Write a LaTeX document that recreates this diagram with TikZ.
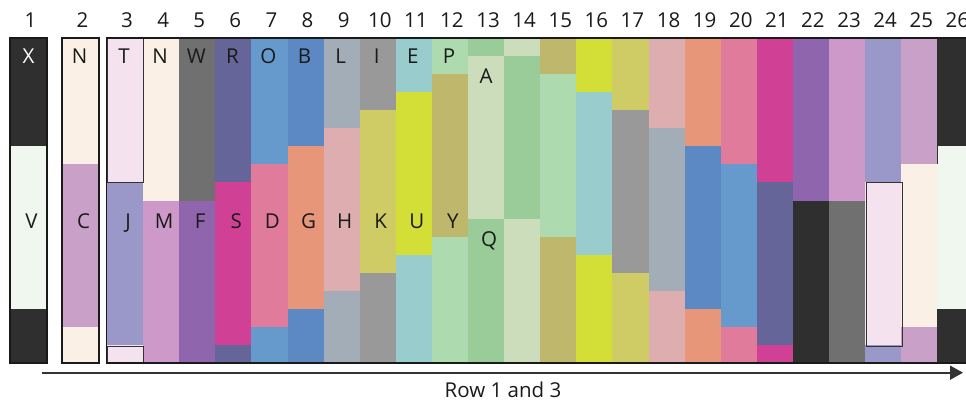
\documentclass[tikz,border=0pt]{standalone}
\usepackage{fontspec}
\setmainfont{Open Sans}
\usetikzlibrary{arrows.meta}
\definecolor{cDark}{HTML}{2F2F2F}
\definecolor{cLight}{HTML}{F0F7EE}
\definecolor{cCream}{HTML}{FAF0E6}
\definecolor{cPurC}{HTML}{C9A0C8}
\definecolor{cPinkT}{HTML}{F4E2EE}
\definecolor{cLav}{HTML}{9A98C9}
\definecolor{cPurM}{HTML}{CC99C8}
\definecolor{cGrayW}{HTML}{6F706F}
\definecolor{cPurF}{HTML}{8F66AD}
\definecolor{cSlate}{HTML}{65659A}
\definecolor{cMag}{HTML}{D04095}
\definecolor{cBlueO}{HTML}{6699CC}
\definecolor{cPinkD}{HTML}{E07B9B}
\definecolor{cBlueB}{HTML}{5C88C4}
\definecolor{cSalm}{HTML}{E8967A}
\definecolor{cGrBl}{HTML}{A3ADB8}
\definecolor{cPinkH}{HTML}{DEADB0}
\definecolor{cGrayI}{HTML}{999999}
\definecolor{cKhaki}{HTML}{CFCC66}
\definecolor{cTeal}{HTML}{99CCCC}
\definecolor{cYell}{HTML}{D3DF37}
\definecolor{cLGreen}{HTML}{ADDBAF}
\definecolor{cOlive}{HTML}{BFB76B}
\definecolor{cGreen}{HTML}{99CC99}
\definecolor{cPale}{HTML}{CCDDBB}
\definecolor{cLine}{HTML}{1A1A1A}
\definecolor{cArrow}{HTML}{333333}
\definecolor{cText}{HTML}{1A1A1A}
\begin{document}
\begin{tikzpicture}[x=1pt,y=-1pt,
  lab/.style={font=\fontsize{20.5}{21}\selectfont, inner sep=0pt, anchor=base, text=cText},
  frame/.style={draw=cLine, line width=1.8pt},
  thinframe/.style={draw=cArrow, line width=1pt}]
\useasboundingbox (0,0) rectangle (966,401);
\def\u{18.0556}
% cells
\foreach \k/\t/\ca/\cb/\cc in {
 1/6/cDark/cLight/cDark, 2/7/cCream/cPurC/cCream, 3/8/cPinkT/cLav/cPinkT,
 4/9/cCream/cPurM/cPurM, 5/9/cGrayW/cPurF/cPurF, 6/8/cSlate/cMag/cSlate,
 7/7/cBlueO/cPinkD/cBlueO, 8/6/cBlueB/cSalm/cBlueB, 9/5/cGrBl/cPinkH/cGrBl,
 10/4/cGrayI/cKhaki/cGrayI, 11/3/cTeal/cYell/cTeal, 12/2/cLGreen/cOlive/cLGreen,
 13/1/cGreen/cPale/cGreen, 14/1/cPale/cGreen/cPale, 15/2/cOlive/cLGreen/cOlive,
 16/3/cYell/cTeal/cYell, 17/4/cKhaki/cGrayI/cKhaki, 18/5/cPinkH/cGrBl/cPinkH,
 19/6/cSalm/cBlueB/cSalm, 20/7/cPinkD/cBlueO/cPinkD, 21/8/cMag/cSlate/cMag,
 22/9/cPurF/cDark/cDark, 23/9/cPurM/cGrayW/cGrayW, 24/8/cLav/cPinkT/cLav,
 25/7/cPurC/cCream/cPurC, 26/6/cDark/cLight/cDark}
{
  \pgfmathsetmacro\xl{\k<3 ? (\k==1 ? 10 : 62) : 107+(\k-3)*36.1}
  \pgfmathsetmacro\w{\k<3 ? 37 : 36.1}
  \pgfmathsetmacro\ya{38+\t*\u}
  \pgfmathsetmacro\yb{38+(\t+9)*\u}
  \fill[\ca] (\xl,38) rectangle (\xl+\w,\ya);
  \fill[\cb] (\xl,\ya) rectangle (\xl+\w,\yb);
  \fill[\cc] (\xl,\yb) rectangle (\xl+\w,363);
  \pgfmathsetmacro\xc{\xl+\w/2+2}
  \node[lab] (num\k) at (\xc,27.3) {\k};
}
% inner outlines
\draw[thinframe] (107,38) rectangle (143.1,182.4);
\draw[thinframe] (107,346.5) rectangle (143.1,363);
\draw[thinframe] (866.3,182.4) rectangle (902.4,346.5);
\draw[thinframe] (937.3,146.3) -- (937.3,164.4);
% frames
\draw[frame] (10,38) rectangle (47,363);
\draw[frame] (62,38) rectangle (99,363);
\draw[frame] (106.5,38) rectangle (980,363);
% labels
\node[lab, text=white] (top1) at (28.5,64) {X};
\node[lab] (bot1) at (31.5,228.3) {V};
\foreach \k/\a/\b in {2/N/C, 3/T/J, 4/N/M, 5/W/F, 6/R/S, 7/O/D, 8/B/G,
  9/L/H, 10/I/K, 11/E/U, 12/P/Y}
{
  \pgfmathsetmacro\xl{\k<3 ? 62 : 107+(\k-3)*36.1}
  \pgfmathsetmacro\w{\k<3 ? 37 : 36.1}
  \pgfmathsetmacro\xt{\xl+\w/2-1}
  \pgfmathsetmacro\xb{\xl+\w/2+3}
  \node[lab] (top\k) at (\xt,64) {\a};
  \node[lab] (bot\k) at (\xb,228.3) {\b};
}
\node[lab] (top13) at (486,83.5) {A};
\node[lab] (bot13) at (489,246.5) {Q};
% axis arrow
\coordinate (astart) at (42,372.7);
\coordinate (aend) at (963,372.7);
\draw[line width=1.6pt, draw=cArrow, -{Triangle[length=13pt,width=14pt,fill=cArrow]}] (astart) -- (aend);
\node[lab] (rowlab) at (503,397.5) {Row 1 and 3};
\end{tikzpicture}
\end{document}
